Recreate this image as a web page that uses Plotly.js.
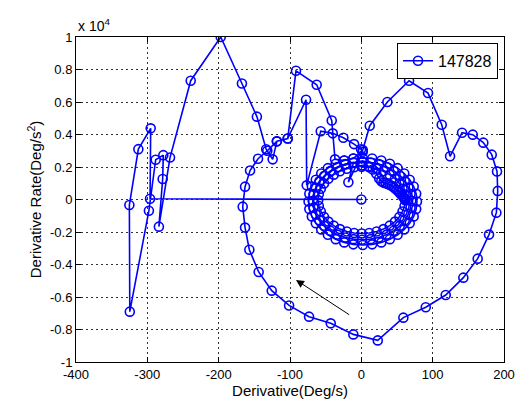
<!DOCTYPE html>
<html>
<head>
<meta charset="utf-8">
<script src="https://cdn.plot.ly/plotly-3.0.1.min.js"></script>
<style>html,body{margin:0;padding:0;background:#fff}#chart{width:521px;height:406px}</style>
</head>
<body>
<div id="chart"></div>
<script>
// Derivative (Deg/s) and derivative rate (x 10^4 Deg/s^2), in drawing order
const startX = [0, -296.2, -295.3, -312.6, -325.2, -324.6, -297.8, -288.3, -277.6, -278.5, -283.8, -268.2, -239.2, -197.1, -167.4, -146.4, -133.4, -124.3, -118.4, -103.2, -91.6, -62.6, -41.5, -36.9];
const startY = [0, 0.005, 0.438, 0.31, -0.034, -0.69, -0.069, 0.245, 0.273, 0.126, -0.167, 0.258, 0.731, 1.0, 0.714, 0.51, 0.309, 0.247, 0.358, 0.375, 0.792, 0.706, 0.486, 0.247];

const ring1X = [-24.0, -11.2, 2.0, 15.2, 28.0, 40.0, 50.9, 60.2, 67.8, 73.4, 76.9, 78.0, 76.9, 73.4, 67.8, 60.2, 50.9, 40.0, 28.0, 15.2, 2.0, -11.2, -24.0, -36.0, -46.9, -56.2, -63.8, -69.4, -72.9, -74.0, -72.9, -69.4, -63.8, -56.2, -46.9, -36.0, -24.0, -11.2, 2.0];
const ring1Y = [0.240, 0.252, 0.256, 0.252, 0.240, 0.220, 0.193, 0.160, 0.122, 0.080, 0.035, -0.012, -0.059, -0.104, -0.146, -0.184, -0.217, -0.244, -0.264, -0.276, -0.280, -0.276, -0.264, -0.244, -0.217, -0.184, -0.146, -0.104, -0.059, -0.012, 0.035, 0.080, 0.122, 0.160, 0.193, 0.220, 0.240, 0.252, 0.305];

const loopX = [11.8, 36.5, 66.9, 93.5, 112.7, 124.4, 141.2, 156.2, 171.0, 182.8, 190.2, 191.2, 189.3, 179.0, 163.1, 143.0, 118.3, 90.3, 58.9, 23.0, -11.2, -42.9, -73.3, -101.3, -125.6, -143.9, -157.0, -163.0, -166.3, -163.0, -156.0, -144.8, -131.8, -118.4, -103.2, -77.5, -76.6, -56.9, -40.1, -25.2, -10.2, -0.4, 2.0, -18.2];
const loopY = [0.454, 0.6, 0.731, 0.655, 0.46, 0.266, 0.411, 0.399, 0.35, 0.276, 0.173, 0.053, -0.081, -0.216, -0.364, -0.481, -0.588, -0.663, -0.727, -0.867, -0.830, -0.762, -0.721, -0.652, -0.561, -0.446, -0.309, -0.173, -0.044, 0.079, 0.178, 0.251, 0.30, 0.358, 0.375, 0.614, 0.087, 0.42, 0.407, 0.38, 0.341, 0.309, 0.294, 0.106];

const ring2X = [-11.0, 1.0, 13.0, 24.6, 35.5, 45.4, 53.9, 60.8, 65.9, 69.0, 70.0, 69.0, 65.9, 60.8, 53.9, 45.4, 35.5, 24.6, 13.0, 1.0, -11.0, -22.6, -33.5, -43.4, -51.9, -58.8, -63.9, -67.0, -68.0, -67.0, -63.9, -58.8, -51.9, -43.4, -33.5, -22.6, -11.0];
const ring2Y = [0.228, 0.232, 0.228, 0.218, 0.200, 0.176, 0.146, 0.112, 0.074, 0.034, -0.008, -0.050, -0.090, -0.128, -0.162, -0.192, -0.216, -0.234, -0.244, -0.248, -0.244, -0.234, -0.216, -0.192, -0.162, -0.128, -0.090, -0.050, -0.008, 0.034, 0.074, 0.112, 0.146, 0.176, 0.200, 0.218, 0.228];

const ring3X = [0.5, 11.1, 21.4, 31.0, 39.7, 47.2, 53.3, 57.8, 60.6, 61.5, 60.6, 57.8, 53.3, 47.2, 39.7, 31.0, 21.4, 11.1, 0.5, -10.1, -20.4, -30.0, -38.7, -46.2, -52.3, -56.8, -59.6, -60.5, -59.6, -56.8, -52.3, -46.2, -38.7, -30.0, -20.4, -10.1];
const ring3Y = [0.201, 0.198, 0.189, 0.174, 0.153, 0.128, 0.099, 0.066, 0.032, -0.004, -0.040, -0.074, -0.107, -0.136, -0.161, -0.182, -0.197, -0.206, -0.209, -0.206, -0.197, -0.182, -0.161, -0.136, -0.107, -0.074, -0.040, -0.004, 0.032, 0.066, 0.099, 0.128, 0.153, 0.174, 0.189, 0.198];

const endX = [1.5, 10.0, 16.0, 21.0, 25.0, 28.0, 31.0, 34.0, 37.0, 40.0, 43.0, 46.0, 49.0, 52.0, 54.0, 56.0, 58.0, 59.5, 60.5, 61.2, 61.6];
const endY = [0.21, 0.205, 0.185, 0.158, 0.13, 0.112, 0.104, 0.1, 0.096, 0.09, 0.083, 0.073, 0.062, 0.05, 0.04, 0.03, 0.021, 0.013, 0.007, 0.003, 0.0];

const seriesName = '147828';
const xTickVals = [-400, -300, -200, -100, 0, 100, 200];
const xTickText = ['-400', '-300', '-200', '-100', '0', '100', '200'];
const yTickVals = [-1, -0.8, -0.6, -0.4, -0.2, 0, 0.2, 0.4, 0.6, 0.8, 1];
const yTickText = ['-1', '-0.8', '-0.6', '-0.4', '-0.2', '0', '0.2', '0.4', '0.6', '0.8', '1'];
const arrowFrom = [-14.9, -0.715];
const arrowTo = [-91.6, -0.495];

const xs = [].concat(startX, ring1X, loopX, ring2X, ring3X, endX);
const ys = [].concat(startY, ring1Y, loopY, ring2Y, ring3Y, endY);

const font = 'Liberation Sans, Arial, sans-serif';
const trace = {
  x: xs, y: ys, type: 'scatter', mode: 'lines+markers', name: seriesName,
  line: {color: 'rgb(0,0,255)', width: 1.6},
  marker: {symbol: 'circle-open', size: 9, color: 'rgb(0,0,255)', line: {width: 1.6, color: 'rgb(0,0,255)'}}
};
const axisCommon = {
  showline: true, linecolor: '#000', linewidth: 1, mirror: 'allticks',
  ticks: 'inside', ticklen: 5, tickcolor: '#000', tickwidth: 1,
  showgrid: true, gridcolor: 'rgba(0,0,0,0.8)', gridwidth: 1, griddash: '2px,3px',
  zeroline: false, tickfont: {family: font, size: 13, color: '#000'}
};
const layout = {
  width: 521, height: 406,
  margin: {l: 76, r: 17, t: 37, b: 44},
  paper_bgcolor: '#fff', plot_bgcolor: '#fff',
  showlegend: true,
  legend: {x: 0.986, xanchor: 'right', y: 0.982, yanchor: 'top', bgcolor: '#fff', bordercolor: '#000', borderwidth: 1,
           font: {family: font, size: 16, color: '#000'}, tracegroupgap: 0},
  xaxis: Object.assign({}, axisCommon, {range: [-400, 200], tickmode: 'array', tickvals: xTickVals, ticktext: xTickText,
           ticklabelstandoff: 0,
           title: {text: 'Derivative(Deg/s)', font: {family: font, size: 15, color: '#000'}, standoff: 0}}),
  yaxis: Object.assign({}, axisCommon, {range: [-1, 1], tickmode: 'array', tickvals: yTickVals, ticktext: yTickText,
           title: {text: 'Derivative Rate(Deg/s<sup>2</sup>)', font: {family: font, size: 15, color: '#000'}, standoff: 4}}),
  annotations: [
    {xref: 'paper', yref: 'paper', x: 0, y: 1, xanchor: 'left', yanchor: 'bottom', yshift: 1, showarrow: false,
     text: 'x 10<sup>4</sup>', font: {family: font, size: 14, color: '#000'}},
    {x: arrowTo[0], y: arrowTo[1], ax: arrowFrom[0], ay: arrowFrom[1], axref: 'x', ayref: 'y', xref: 'x', yref: 'y',
     text: '', showarrow: true, arrowhead: 2, arrowsize: 1.6, arrowwidth: 1, arrowcolor: '#000'}
  ]
};
Plotly.newPlot('chart', [trace], layout, {displayModeBar: false, staticPlot: true});
</script>
</body>
</html>
